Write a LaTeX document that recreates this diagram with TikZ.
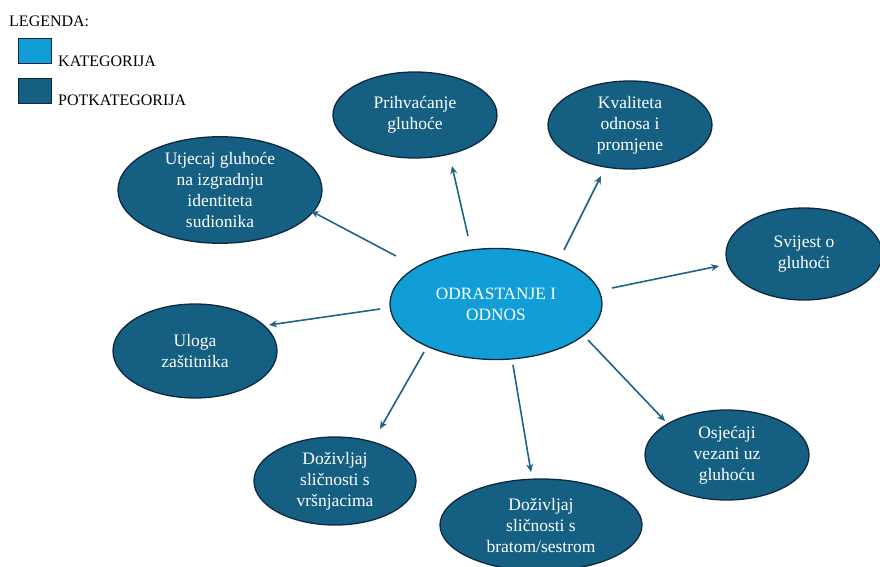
\documentclass[tikz,border=0pt]{standalone}
\usepackage{fontspec}
\setmainfont{Liberation Serif}
\usetikzlibrary{shapes.geometric,arrows.meta}
\definecolor{catblue}{RGB}{17,158,214}
\definecolor{subblue}{RGB}{21,96,130}
\definecolor{edgedark}{RGB}{14,40,65}
\definecolor{arrowcol}{RGB}{31,100,135}
\tikzset{
  cat/.style={ellipse,draw=edgedark,line width=1.3pt,fill=catblue,text=white,align=center,font=\fontsize{17.3}{21}\selectfont,inner sep=0pt},
  sub/.style={ellipse,draw=edgedark,line width=1.3pt,fill=subblue,text=white,align=center,font=\fontsize{17.5}{21}\selectfont,inner sep=0pt},
  conn/.style={draw=arrowcol,line width=1.6pt,-{Stealth[length=8pt,width=7pt]}},
  legbox/.style={draw=edgedark,line width=1.3pt,minimum width=33pt,minimum height=25pt,inner sep=0pt},
  legtext/.style={anchor=west,font=\fontsize{16}{18}\selectfont,inner sep=0pt}
}
\begin{document}
\begin{tikzpicture}[x=1pt,y=-1pt]
\useasboundingbox (0,0) rectangle (880,567);
% legend
\node[legtext] (leg) at (9,21) {LEGENDA:};
\node[legbox,fill=catblue] (lb1) at (35,51) {};
\node[legtext] (lt1) at (58,61) {KATEGORIJA};
\node[legbox,fill=subblue] (lb2) at (35,91) {};
\node[legtext] (lt2) at (58,100) {POTKATEGORIJA};
% ellipses
\node[cat,minimum width=212pt,minimum height=111pt] (c) at (496,304) {ODRASTANJE I\\ODNOS};
\node[sub,minimum width=164pt,minimum height=86pt] (p) at (415,115) {Prihvaćanje\\gluhoće};
\node[sub,minimum width=164pt,minimum height=88pt] (k) at (630,125) {Kvaliteta\\odnosa i\\promjene};
\node[sub,minimum width=204pt,minimum height=94pt] (u) at (220,190) {Utjecaj gluhoće\\na izgradnju\\identiteta\\sudionika};
\node[sub,minimum width=156pt,minimum height=92pt] (s) at (804,254) {Svijest o\\gluhoći};
\node[sub,minimum width=164pt,minimum height=94pt] (z) at (195,351) {Uloga\\zaštitnika};
\node[sub,minimum width=162pt,minimum height=88pt] (v) at (335,481) {Doživljaj\\sličnosti s\\vršnjacima};
\node[sub,minimum width=202pt,minimum height=92pt] (b) at (541,525) {Doživljaj\\sličnosti s\\bratom/sestrom};
\node[sub,minimum width=164pt,minimum height=90pt] (o) at (727,455) {Osjećaji\\vezani uz\\gluhoću};
% arrow end points
\coordinate (ps) at (468,236); \coordinate (pe) at (452,166);
\coordinate (ks) at (564,250); \coordinate (ke) at (601,176);
\coordinate (us) at (396,256); \coordinate (ue) at (311,211);
\coordinate (ss) at (612,288); \coordinate (se) at (719,266);
\coordinate (zs) at (380,309); \coordinate (ze) at (269,325);
\coordinate (vs) at (424,352); \coordinate (ve) at (380,429);
\coordinate (bs) at (513,365); \coordinate (be) at (531,472);
\coordinate (os) at (588,340); \coordinate (oe) at (665,421);
\draw[conn] (ps) -- (pe);
\draw[conn] (ks) -- (ke);
\draw[conn] (us) -- (ue);
\draw[conn] (ss) -- (se);
\draw[conn] (zs) -- (ze);
\draw[conn] (vs) -- (ve);
\draw[conn] (bs) -- (be);
\draw[conn] (os) -- (oe);
\end{tikzpicture}
\end{document}
